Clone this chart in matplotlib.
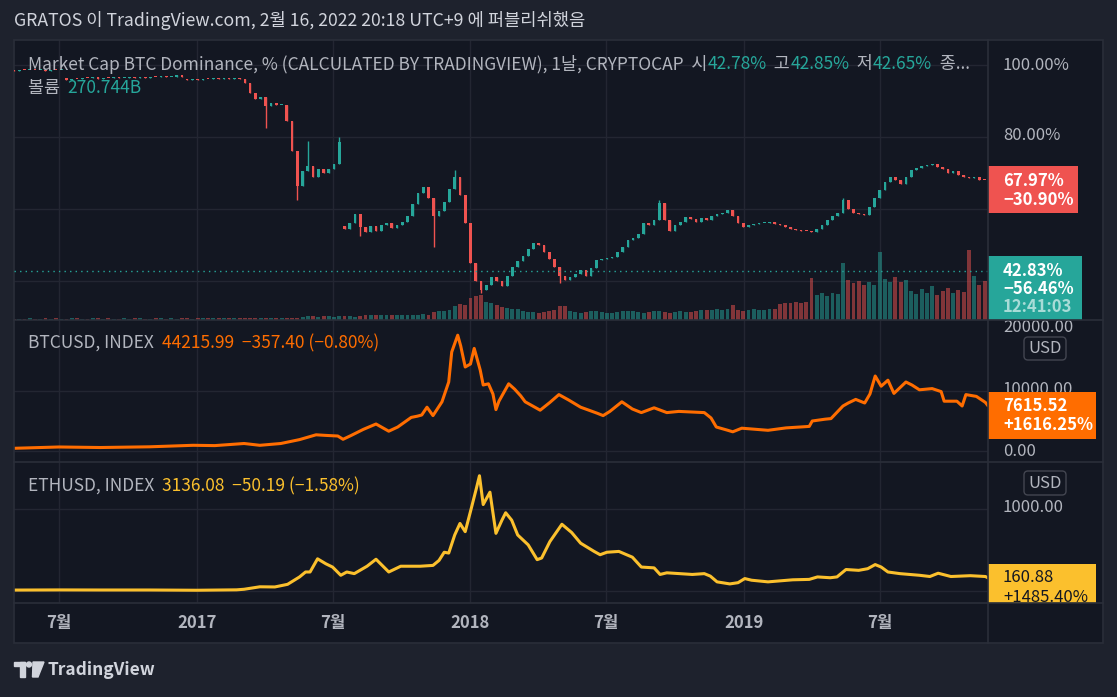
import matplotlib
matplotlib.use('Agg')
import matplotlib.pyplot as plt
import matplotlib.dates as mdates
from matplotlib.transforms import Affine2D
from matplotlib.patches import Rectangle, FancyBboxPatch, Circle, Polygon
from matplotlib.lines import Line2D
import numpy as np

plt.rcParams['font.family'] = ['Noto Sans CJK KR', 'DejaVu Sans']

W, H = 1117, 697

# ---------------- data ----------------
dom_start = '2016-05-02'   # weekly candles
dom_close = [
    98.4, 98.6, 98.5, 98.7, 98.5, 98.6, 98.4, 98.6, 98.5, 98.7,
    95.8, 96.2, 96.0, 96.4, 96.3, 96.6, 96.2, 96.5, 96.4, 96.7,
    96.3, 96.5, 96.6, 96.4, 96.8, 96.5, 96.7, 96.6, 96.9, 96.7,
    96.8, 97.0, 96.8, 95.8, 96.0, 95.7, 96.1, 96.0, 96.3, 96.1,
    96.4, 96.2, 96.3, 96.0, 95.0, 92.2, 90.5, 91.2, 88.5, 89.5,
    88.8, 89.0, 84.5, 76.0, 66.5, 70.5, 72.0, 69.0, 71.2, 70.0,
    71.0, 72.5, 78.5, 54.5, 56.0, 58.5, 55.0, 53.5, 55.2, 54.0,
    55.5, 56.2, 54.8, 55.5, 56.5, 58.0, 61.5, 64.5, 66.0, 63.0,
    58.0, 59.5, 62.0, 65.5, 69.0, 64.0, 56.0, 45.0, 40.0, 37.5,
    39.0, 41.0, 40.0, 38.5, 41.5, 44.0, 45.5, 47.0, 49.0, 50.5,
    50.0, 48.0, 46.0, 44.0, 41.5, 40.3, 41.0, 42.0, 43.0, 41.5,
    43.5, 45.8, 46.0, 46.5, 46.7, 48.0, 49.4, 51.4, 52.0, 53.0,
    56.0, 55.5, 56.9, 61.7, 57.0, 54.0, 55.5, 56.5, 57.8, 57.2,
    56.5, 57.5, 57.0, 58.0, 58.5, 59.0, 59.7, 58.0, 56.0, 55.0,
    55.5, 55.8, 56.0, 56.2, 56.4, 55.8, 55.5, 55.0, 54.5, 54.2,
    54.0, 53.8, 53.6, 54.5, 55.5, 57.0, 58.0, 58.9, 62.5, 60.0,
    59.0, 58.5, 58.3, 60.6, 63.0, 65.3, 67.5, 69.0, 68.0, 67.0,
    69.0, 70.8, 71.5, 72.0, 72.2, 72.5, 71.8, 71.0, 70.0, 70.5,
    69.5, 69.0, 68.5, 69.0, 68.0, 67.97,
]
dom_gap_open = {10: 96.4, 33: 96.2, 63: 55.4}
dom_wick_high = {31: 97.3, 56: 79.0, 62: 80.0, 84: 70.8, 123: 62.5, 158: 63.0}
dom_wick_low = {48: 82.5, 54: 62.5, 66: 52.5, 80: 49.4, 89: 36.7, 104: 39.5}

vol_b = [
    8, 10, 9, 11, 10, 9, 12, 10, 11, 9,
    10, 12, 11, 10, 9, 11, 12, 10, 11, 10,
    9, 11, 10, 12, 11, 10, 9, 11, 12, 10,
    11, 10, 12, 11, 10, 12,
    14, 13, 15, 14, 13, 15, 16, 14, 13, 15,
    14, 16, 15, 14, 13, 15, 16, 14, 15,
    22, 25, 24, 23, 26, 24, 22, 25, 27, 24, 23, 26,
    32, 35, 34, 36, 33, 35, 37, 34, 32, 36, 35, 38, 36,
    55, 62, 58, 66,
    95, 108, 102,
    150, 162, 170,
    120, 112, 105,
    85, 80, 76, 72,
    58, 52, 55, 50, 56, 60, 65,
    98, 92,
    60, 55, 48, 52, 58, 62, 55, 50, 47, 53,
    58, 64, 60, 54, 50, 56, 62, 58, 52, 48,
    55, 60, 57, 52, 58,
    65, 70, 68, 72, 66, 75, 102, 70, 64, 68,
    72, 66, 70, 74, 78,
    110, 118, 112, 120, 116, 122,
    285,
    170, 185, 165, 180, 175,
    390,
    270, 250, 265, 240, 255,
    240, 460,
    280, 260, 290, 255, 270,
    200, 175, 210, 185, 230, 170, 195, 215, 180, 205, 190,
    475, 300, 240, 262,
]

btc_dates = [
    '2016-05-02', '2016-07-01', '2016-08-25', '2016-10-30', '2016-12-27',
    '2017-01-25', '2017-03-05', '2017-03-26', '2017-04-23', '2017-05-18',
    '2017-06-09', '2017-06-22', '2017-07-08', '2017-07-15', '2017-07-26',
    '2017-08-11', '2017-08-28', '2017-09-14', '2017-09-26', '2017-10-14',
    '2017-10-22', '2017-10-28', '2017-11-04', '2017-11-12', '2017-11-24',
    '2017-12-03', '2017-12-07', '2017-12-15', '2017-12-19', '2017-12-25',
    '2018-01-01', '2018-01-06', '2018-01-14', '2018-01-18', '2018-01-25',
    '2018-01-31', '2018-02-04', '2018-02-08', '2018-02-21', '2018-03-01',
    '2018-03-09', '2018-03-15', '2018-04-04', '2018-04-17', '2018-04-29',
    '2018-05-12', '2018-05-28', '2018-06-19', '2018-06-27', '2018-07-06',
    '2018-07-22', '2018-08-05', '2018-08-17', '2018-09-03', '2018-09-20',
    '2018-10-06', '2018-11-09', '2018-11-18', '2018-11-25', '2018-12-09',
    '2018-12-17', '2018-12-29', '2019-02-02', '2019-02-26', '2019-03-17',
    '2019-03-29', '2019-04-02', '2019-04-19', '2019-04-27', '2019-05-13',
    '2019-05-20', '2019-05-30', '2019-06-11', '2019-06-18', '2019-06-25',
    '2019-07-03', '2019-07-12', '2019-07-20', '2019-08-05', '2019-08-13',
    '2019-08-23', '2019-09-09', '2019-09-21', '2019-09-25', '2019-10-12',
    '2019-10-19', '2019-10-24', '2019-11-07', '2019-11-19', '2019-11-22',
]
btc_close = [
    450, 670, 580, 700, 950,
    900, 1250, 950, 1250, 1900,
    2700, 2600, 2500, 1950, 2600,
    3600, 4500, 3300, 4000, 5600,
    5800, 6000, 7300, 5900, 8200,
    11500, 16500, 19300, 17500, 14000,
    14500, 17100, 13500, 11000, 11200,
    9500, 6900, 8300, 11200, 10300,
    9200, 8200, 6800, 8100, 9400,
    8500, 7300, 6300, 5900, 6600,
    8200, 7000, 6400, 7200, 6400,
    6600, 6400, 5500, 4000, 3500,
    3200, 3800, 3450, 3850, 4000,
    4100, 5000, 5300, 5400, 7500,
    8000, 8600, 8000, 9500, 12500,
    10800, 11800, 9600, 11500, 11000,
    10200, 10400, 9900, 8300, 8300,
    7500, 9400, 9100, 8100, 7615.52,
]

eth_dates = [
    '2016-05-02', '2016-07-01', '2016-08-25', '2016-10-30', '2017-01-01',
    '2017-02-23', '2017-03-05', '2017-03-26', '2017-04-15', '2017-05-02',
    '2017-05-18', '2017-05-26', '2017-06-01', '2017-06-11', '2017-06-22',
    '2017-07-01', '2017-07-12', '2017-07-20', '2017-07-30', '2017-08-16',
    '2017-08-28', '2017-09-14', '2017-09-30', '2017-10-26', '2017-11-12',
    '2017-11-20', '2017-11-27', '2017-12-03', '2017-12-11', '2017-12-18',
    '2017-12-25', '2018-01-02', '2018-01-09', '2018-01-13', '2018-01-18',
    '2018-01-27', '2018-02-04', '2018-02-12', '2018-02-17', '2018-02-25',
    '2018-03-05', '2018-03-19', '2018-03-31', '2018-04-06', '2018-04-17',
    '2018-05-03', '2018-05-16', '2018-05-28', '2018-06-15', '2018-06-23',
    '2018-07-02', '2018-07-18', '2018-08-05', '2018-08-17', '2018-09-03',
    '2018-09-11', '2018-09-20', '2018-10-24', '2018-11-09', '2018-11-17',
    '2018-11-26', '2018-12-13', '2018-12-24', '2019-01-02', '2019-01-11',
    '2019-02-02', '2019-03-07', '2019-03-29', '2019-04-09', '2019-04-26',
    '2019-05-05', '2019-05-17', '2019-06-03', '2019-06-15', '2019-06-25',
    '2019-07-03', '2019-07-12', '2019-07-28', '2019-08-23', '2019-09-06',
    '2019-09-17', '2019-10-04', '2019-10-30', '2019-11-19', '2019-11-22',
]
eth_close = [
    10.15, 12, 11, 11, 8,
    13, 20, 50, 48, 80,
    170, 230, 230, 390, 330,
    290, 190, 230, 210, 300,
    385, 230, 300, 300, 310,
    370, 470, 460, 680, 820,
    720, 1000, 1250, 1400, 1050,
    1200, 700, 860, 950, 860,
    680, 560, 380, 400, 600,
    810, 710, 580, 480, 440,
    470, 480, 410, 290, 280,
    200, 220, 200, 210, 180,
    110, 85, 100, 150, 130,
    110, 135, 140, 170, 160,
    170, 260, 250, 270, 320,
    290, 230, 210, 190, 175,
    215, 175, 185, 175, 160.88,
]

tick_dates = ['2016-07-01', '2017-01-01', '2017-07-01', '2018-01-01',
              '2018-07-01', '2019-01-01', '2019-07-01']
tick_labels = ['7월', '2017', '7월', '2018', '7월', '2019', '7월']

# ---------------- colours ----------------
BG_OUT = '#1e222d'
BG = '#131722'
GRID = '#232632'
BORDER = '#2a2e39'
TXT = '#b2b5be'
UP = '#26a69a'
DN = '#ef5350'
BTC_C = '#ff6d00'
ETH_C = '#fbc02d'

fig = plt.figure(figsize=(W / 100, H / 100), dpi=100, facecolor=BG_OUT)
PX = Affine2D().scale(1 / 100, -1 / 100).translate(0, H / 100) + fig.dpi_scale_trans


def ax_at(x0, y0, x1, y1):
    ax = fig.add_axes([x0 / W, 1 - y1 / H, (x1 - x0) / W, (y1 - y0) / H])
    ax.set_facecolor(BG)
    ax.set_xticks([])
    ax.set_yticks([])
    for s in ax.spines.values():
        s.set_visible(False)
    return ax


x_lo = mdates.datestr2num('2016-05-02')
x_hi = mdates.datestr2num('2019-11-22') + 0.5
ticks = [mdates.datestr2num(d) for d in tick_dates]

ax1 = ax_at(14, 40, 988, 320)
ax2 = ax_at(14, 320, 988, 462)
ax3 = ax_at(14, 462, 988, 603)
axt = ax_at(14, 603, 988, 643)
for ax in (ax1, ax2, ax3, axt):
    ax.set_xlim(x_lo, x_hi)
for ax in (ax1, ax2, ax3):
    for t in ticks:
        ax.axvline(t, color=GRID, lw=1, zorder=0)

ax1.set_ylim(29.17, 106.94)
ax2.set_ylim(-1833, 21833)
ax3.set_ylim(-147, 1567)
for v in (100, 80, 60, 40):
    ax1.axhline(v, color=GRID, lw=1, zorder=0)
for v in (0, 10000):
    ax2.axhline(v, color=GRID, lw=1, zorder=0)
for v in (0, 1000):
    ax3.axhline(v, color=GRID, lw=1, zorder=0)

# ---------------- candles + volume ----------------
n = len(dom_close)
dates = mdates.datestr2num(dom_start) + 7 * np.arange(n)
close = np.array(dom_close)
opn = np.r_[close[0] + 0.1, close[:-1]]
for i, v in dom_gap_open.items():
    opn[i] = v
up = close >= opn
cols = np.where(up, UP, DN)
hi = np.maximum(opn, close)
lo = np.minimum(opn, close)
for i, v in dom_wick_high.items():
    hi[i] = v
for i, v in dom_wick_low.items():
    lo[i] = v

axv = fig.add_axes(ax1.get_position())
axv.patch.set_visible(False)
axv.set_xticks([])
axv.set_yticks([])
for s in axv.spines.values():
    s.set_visible(False)
axv.set_xlim(x_lo, x_hi)
axv.set_ylim(0, 1900)
axv.bar(dates, vol_b, width=5.2, color=cols, alpha=0.5, linewidth=0)
axv.set_zorder(ax1.get_zorder() + 0.5)

axc = fig.add_axes(ax1.get_position())
axc.patch.set_visible(False)
axc.set_xticks([])
axc.set_yticks([])
for s in axc.spines.values():
    s.set_visible(False)
axc.set_xlim(x_lo, x_hi)
axc.set_ylim(ax1.get_ylim())
axc.set_zorder(ax1.get_zorder() + 1)
axc.vlines(dates, lo, hi, colors=cols, lw=1)
body_h = np.maximum(np.abs(close - opn), 0.3)
axc.bar(dates, body_h, bottom=np.minimum(opn, close), width=3.6, color=cols, linewidth=0)
axc.axhline(42.83, color=UP, lw=1, ls=(0, (1, 3)))

# ---------------- lines ----------------
ax2.plot(mdates.datestr2num(btc_dates), btc_close, color=BTC_C, lw=2.2,
         solid_joinstyle='round')
ax3.plot(mdates.datestr2num(eth_dates), eth_close, color=ETH_C, lw=2.2,
         solid_joinstyle='round')

for t, lab in zip(ticks, tick_labels):
    axt.text(t, 0.5, lab, color=TXT, fontsize=12, fontweight='bold',
             ha='center', va='center')

# ---------------- right price scale ----------------
axp1 = ax_at(988, 40, 1103, 320)
axp2 = ax_at(988, 320, 1103, 462)
axp3 = ax_at(988, 462, 1103, 603)
axpt = ax_at(988, 603, 1103, 643)


def ptext(ax, x, y, s, **kw):
    kw.setdefault('fontsize', 12)
    kw.setdefault('color', TXT)
    kw.setdefault('va', 'center')
    return ax.text(x, y, s, transform=PX, clip_on=True, **kw)


def pbox(ax, x0, y0, x1, y1, color):
    ax.add_patch(Rectangle((x0, y0), x1 - x0, y1 - y0, transform=PX,
                           facecolor=color, edgecolor='none', zorder=3,
                           clip_on=True))


def usd_box(ax, y0, y1):
    ax.add_patch(FancyBboxPatch((1024, y0), 42, y1 - y0, transform=PX,
                                boxstyle='round,pad=0,rounding_size=4',
                                facecolor=BG, edgecolor='#434651', lw=1, zorder=4))
    ptext(ax, 1045, (y0 + y1) / 2, 'USD', ha='center', zorder=5)


ptext(axp1, 1003, 65, '100.00%')
ptext(axp1, 1003, 136, '80.00%')
pbox(axp1, 988, 166, 1078, 213, DN)
ptext(axp1, 1003, 181, '67.97%', color='white', fontweight='bold', zorder=5)
ptext(axp1, 1003, 200, '\u221230.90%', color='white', fontweight='bold', zorder=5)
pbox(axp1, 988, 256, 1082, 322, UP)
ptext(axp1, 1003, 271, '42.83%', color='white', fontweight='bold', zorder=5)
ptext(axp1, 1003, 289, '\u221256.46%', color='white', fontweight='bold', zorder=5)
ptext(axp1, 1003, 307, '12:41:03', color='#a8dcd7', fontweight='bold', zorder=5)

# top label of the BTC scale is cut by the pane edge, as in the reference
ptext(axp2, 1003, 328, '20000.00')
ptext(axp2, 1003, 390, '10000.00')
ptext(axp2, 1003, 451, '0.00')
usd_box(axp2, 337, 360)
pbox(axp2, 988, 392, 1096, 439, BTC_C)
ptext(axp2, 1003, 406, '7615.52', color='white', fontweight='bold', zorder=5)
ptext(axp2, 1003, 425, '+1616.25%', color='white', fontweight='bold', zorder=5)

ptext(axp3, 1003, 508, '1000.00')
usd_box(axp3, 471, 495)
pbox(axp3, 988, 564, 1096, 610, ETH_C)
ptext(axp3, 1003, 578, '160.88', color='#131722', zorder=5)
ptext(axp3, 1003, 597, '+1485.40%', color='#131722', zorder=5)

# ---------------- borders ----------------
fig.add_artist(Rectangle((14, 40), 1089, 603, transform=PX, fill=False,
                         edgecolor=BORDER, lw=1.2))
for yy in (320, 462, 603):
    fig.add_artist(Line2D([14, 1103], [yy, yy], transform=PX, color=BORDER, lw=1.2))
fig.add_artist(Line2D([988, 988], [40, 643], transform=PX, color=BORDER, lw=1.2))

# ---------------- texts ----------------
rend = fig.canvas.get_renderer()


def seq_text(x, y, parts, size=12.5):
    for s, c in parts:
        t = fig.text(x, y, s, transform=PX, color=c, fontsize=size, va='center', ha='left')
        x += t.get_window_extent(renderer=rend).width


fig.text(14, 20, 'GRATOS 이 TradingView.com, 2월 16, 2022 20:18 UTC+9 에 퍼블리쉬했음',
         transform=PX, color='#d1d4dc', fontsize=12.75, va='center')

seq_text(28, 64, [
    ('Market Cap BTC Dominance, % (CALCULATED BY TRADINGVIEW), 1날, CRYPTOCAP  시', TXT),
    ('42.78%', UP), ('  고', TXT), ('42.85%', UP), ('  저', TXT), ('42.65%', UP),
    ('  종...', TXT)])
seq_text(28, 88, [('볼륨  ', TXT), ('270.744B', UP)])
seq_text(28, 343, [('BTCUSD, INDEX  ', TXT),
                   ('44215.99  \u2212357.40 (\u22120.80%)', BTC_C)])
seq_text(28, 486, [('ETHUSD, INDEX  ', TXT),
                   ('3136.08  \u221250.19 (\u22121.58%)', ETH_C)])

# TradingView logo
LOGO = '#d1d4dc'
fig.add_artist(Rectangle((14, 662), 11, 4, transform=PX, color=LOGO))
fig.add_artist(Rectangle((20, 662), 5, 15, transform=PX, color=LOGO))
fig.add_artist(Circle((29, 664.5), 2.5, transform=PX, color=LOGO))
fig.add_artist(Polygon([(33, 662), (44, 662), (38, 677), (32.5, 677)],
                       transform=PX, color=LOGO))
fig.text(48, 670, 'TradingView', transform=PX, color=LOGO, fontsize=12.5,
         fontweight='bold', va='center')

fig.savefig('out.png', dpi=100, facecolor=BG_OUT)
